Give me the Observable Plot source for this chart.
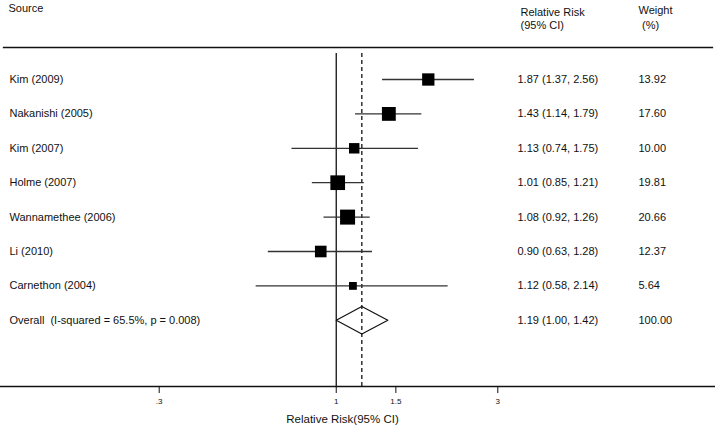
<!DOCTYPE html>
<html>
<head>
<meta charset="utf-8">
<script src="https://cdn.jsdelivr.net/npm/d3@7"></script>
<script src="https://cdn.jsdelivr.net/npm/@observablehq/plot@0.6"></script>
<style>
  html, body { margin: 0; padding: 0; background: #fff; }
</style>
</head>
<body>
<div id="chart"></div>
<script>
// ---- data ----
const studies = ["Kim (2009)", "Nakanishi (2005)", "Kim (2007)", "Holme (2007)", "Wannamethee (2006)", "Li (2010)", "Carnethon (2004)"];
const rr      = [1.87, 1.43, 1.13, 1.01, 1.08, 0.90, 1.12];
const lower   = [1.37, 1.14, 0.74, 0.85, 0.92, 0.63, 0.58];
const upper   = [2.56, 1.79, 1.75, 1.21, 1.26, 1.28, 2.14];
const weights = [13.92, 17.60, 10.00, 19.81, 20.66, 12.37, 5.64];
const overallLabel = "Overall\u00a0 (I-squared = 65.5%, p = 0.008)";
const overallRR = 1.19, overallLower = 1.00, overallUpper = 1.42, overallWeight = 100.00;
const xTicks = [0.3, 1, 1.5, 3];
const xTickLabels = [".3", "1", "1.5", "3"];
const xLabel = "Relative Risk(95% CI)";
const headers = {source: "Source", rr1: "Relative Risk", rr2: "(95% CI)", w1: "Weight", w2: "(%)"};

// ---- tables ----
const rows = studies.map((s, i) => ({label: s, rr: rr[i], lo: lower[i], hi: upper[i], w: weights[i], row: i + 1}));
const overallRow = studies.length + 1;
const allRows = [...rows, {label: overallLabel, rr: overallRR, lo: overallLower, hi: overallUpper, w: overallWeight, row: overallRow}];
const fmt2 = d3.format(".2f");
const h = 0.4; // diamond half-height in row units
const diamond = [
  {x: overallLower, y: overallRow},
  {x: overallRR, y: overallRow - h},
  {x: overallUpper, y: overallRow},
  {x: overallRR, y: overallRow + h},
  {x: overallLower, y: overallRow}
];

const font = "'Liberation Sans', Arial, Helvetica, sans-serif";
const hdr = {frameAnchor: "top-left", textAnchor: "start", lineAnchor: "middle"};

const chart = Plot.plot({
  width: 715,
  height: 430,
  marginTop: 47,
  marginBottom: 44,
  marginLeft: 0,
  marginRight: 0,
  style: {fontFamily: font, fontSize: "11px", color: "#111", background: "#fff"},
  x: {type: "log", domain: [0.3, 3], range: [158.7, 497.3]},
  y: {domain: [1, overallRow], range: [79, 319.8], axis: null},
  r: {type: "sqrt", domain: [0, 100], range: [0, 33 / Math.sqrt(Math.PI)]},
  marks: [
    Plot.frame({anchor: "top", insetLeft: 3, insetRight: 3, stroke: "#111", strokeWidth: 1.3}),
    Plot.frame({anchor: "bottom", stroke: "#111", strokeWidth: 1.3}),
    Plot.ruleX([1], {stroke: "#111", strokeWidth: 1.3, insetTop: 6}),
    Plot.ruleX([overallRR], {stroke: "#111", strokeWidth: 1.3, strokeDasharray: "4,3", insetTop: 6}),
    Plot.ruleY(rows, {x1: "lo", x2: "hi", y: "row", stroke: "#333", strokeWidth: 1.3}),
    Plot.dot(rows, {x: "rr", y: "row", r: "w", symbol: "square", fill: "#000", stroke: "none"}),
    Plot.line(diamond, {x: "x", y: "y", stroke: "#111", strokeWidth: 1.2, fill: "none"}),
    Plot.axisX({anchor: "bottom", ticks: xTicks, tickFormat: (d) => xTickLabels[xTicks.indexOf(d)], tickSize: 7, tickPadding: 5, fontSize: 8, label: null, stroke: "#111"}),
    Plot.text([xLabel], {frameAnchor: "bottom", lineAnchor: "middle", dx: -15.5, dy: 33, fontSize: 11.5}),
    Plot.text(allRows, {y: "row", text: "label", frameAnchor: "left", textAnchor: "start", dx: 9}),
    Plot.text(allRows, {y: "row", text: (d) => `${fmt2(d.rr)} (${fmt2(d.lo)}, ${fmt2(d.hi)})`, frameAnchor: "left", textAnchor: "start", dx: 517}),
    Plot.text(allRows, {y: "row", text: (d) => fmt2(d.w), frameAnchor: "left", textAnchor: "start", dx: 638}),
    Plot.text([headers.source], {...hdr, dx: 8, dy: -39}),
    Plot.text([headers.rr1], {...hdr, dx: 520, dy: -35}),
    Plot.text([headers.rr2], {...hdr, dx: 520, dy: -22}),
    Plot.text([headers.w1], {...hdr, dx: 638, dy: -37}),
    Plot.text([headers.w2], {...hdr, dx: 641.5, dy: -22})
  ]
});
document.getElementById("chart").appendChild(chart);
</script>
</body>
</html>
